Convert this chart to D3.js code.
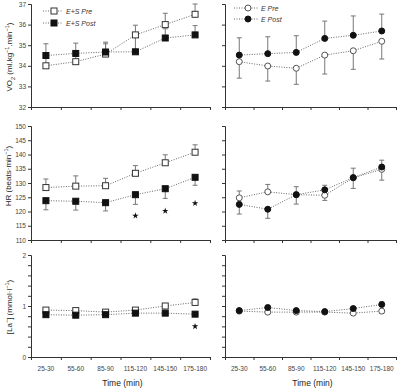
<!DOCTYPE html>
<html><head><meta charset="utf-8">
<script src="https://cdn.jsdelivr.net/npm/d3@7"></script>
<style>
html,body{margin:0;padding:0;background:#fff;}
svg{display:block;font-family:"Liberation Sans",Arial,sans-serif;}
</style></head>
<body>
<svg id="c" width="400" height="389"></svg>
<script>
// ---- data ----
const categories = ["25-30","55-60","85-90","115-120","145-150","175-180"];

// VO2 (ml.kg-1.min-1)
const vo2EsPre      = [34.0, 34.2, 34.57, 35.5, 36.0, 36.5];
const vo2EsPreErr   = [0.5, 0.4, 0.5, 0.47, 0.55, 0.5];      // + up, - down
const vo2EsPost     = [34.5, 34.6, 34.67, 34.68, 35.35, 35.5];
const vo2EsPostErr  = [0.57, 0.5, 0.48, 0.85, 0.45, 0.45];
const vo2EPre       = [34.2, 33.99, 33.88, 34.52, 34.73, 35.19];
const vo2EPreErr    = [-0.8, -0.73, -0.78, -0.92, -0.9, -0.86];
const vo2EPost      = [34.52, 34.59, 34.65, 35.33, 35.48, 35.69];
const vo2EPostErr   = [0.84, 0.82, 0.81, 0.84, 0.94, 0.82];

// HR (beats.min-1)
const hrEsPre       = [128.4, 128.9, 129.05, 133.4, 137.1, 140.8];
const hrEsPreErr    = [3.0, 3.6, 2.6, 2.7, 2.8, 2.6];
const hrEsPost      = [123.8, 123.6, 123.1, 125.9, 128.0, 132.0];
const hrEsPostErr   = [-3.2, -3.1, -2.9, -3.4, -3.4, -2.8];
const hrEPre        = [124.8, 126.9, 125.9, 125.7, 131.8, 134.8];
const hrEPreErr     = [2.4, 2.6, 2.8, -1.8, -3.7, -3.8];
const hrEPost       = [122.5, 120.8, 125.9, 127.6, 131.9, 135.6];
const hrEPostErr    = [-3.4, -3.2, -3.3, 1.6, 3.3, 2.4];
const hrEsStars     = [null, null, null, 118.5, 120.2, 122.9];

// [La-] (mmol.l-1)
const laEsPre       = [0.92, 0.91, 0.88, 0.92, 1.0, 1.07];
const laEsPreErr    = [0.02, 0.02, 0.02, 0.02, 0.03, 0.07];
const laEsPost      = [0.83, 0.82, 0.83, 0.86, 0.86, 0.84];
const laEsPostErr   = [-0.02, -0.02, -0.02, -0.02, -0.02, -0.02];
const laEPre        = [0.9, 0.88, 0.88, 0.88, 0.86, 0.9];
const laEPreErr     = [-0.03, -0.03, -0.03, -0.03, -0.03, -0.04];
const laEPost       = [0.91, 0.97, 0.91, 0.89, 0.95, 1.03];
const laEPostErr    = [0.03, 0.03, 0.03, 0.02, 0.04, 0.05];
const laEsStars     = [null, null, null, null, null, 0.6];

const vo2Ticks = [32, 33, 34, 35, 36, 37];
const hrTicks  = [110, 115, 120, 125, 130, 135, 140, 145, 150];
const laTicks  = [0, 0.2, 0.4, 0.6, 0.8, 1, 1.2, 1.4, 1.6, 1.8, 2];
const laTickLabels = [0, 1, 2];

const legendLeft  = ["E+S Pre", "E+S Post"];
const legendRight = ["E Pre", "E Post"];
const xTitle = "Time (min)";

// ---- layout ----
const svg = d3.select("#c");
const cols = [{x0: 31, x1: 210}, {x0: 225, x1: 396}];
const rows = [
  {key:"vo2", y0: 107, y1: 4,   domain:[32,37],  ticks: vo2Ticks, labels: vo2Ticks, fmt: d3.format("d")},
  {key:"hr",  y0: 240, y1: 126, domain:[110,150],ticks: hrTicks,  labels: hrTicks,  fmt: d3.format("d")},
  {key:"la",  y0: 357, y1: 255, domain:[0,2],    ticks: laTicks,  labels: laTickLabels, fmt: d3.format("d")}
];

const panels = [
  {r:0,c:0, shape:"square", pre:[vo2EsPre,vo2EsPreErr], post:[vo2EsPost,vo2EsPostErr], stars:null, legend: legendLeft},
  {r:0,c:1, shape:"circle", pre:[vo2EPre,vo2EPreErr],   post:[vo2EPost,vo2EPostErr],   stars:null, legend: legendRight},
  {r:1,c:0, shape:"square", pre:[hrEsPre,hrEsPreErr],   post:[hrEsPost,hrEsPostErr],   stars:hrEsStars},
  {r:1,c:1, shape:"circle", pre:[hrEPre,hrEPreErr],     post:[hrEPost,hrEPostErr],     stars:null},
  {r:2,c:0, shape:"square", pre:[laEsPre,laEsPreErr],   post:[laEsPost,laEsPostErr],   stars:laEsStars},
  {r:2,c:1, shape:"circle", pre:[laEPre,laEPreErr],     post:[laEPost,laEPostErr],     stars:null}
];

const axisColor = "#333";
const lineColor = "#666";
const errColor = "#777";

function drawMarker(g, shape, filled, cx, cy) {
  if (shape === "square") {
    g.append("rect").attr("x", cx-3).attr("y", cy-3).attr("width", 6).attr("height", 6)
      .attr("fill", filled ? "#111" : "#fff").attr("stroke", filled ? "#111" : "#333").attr("stroke-width", 1);
  } else {
    g.append("circle").attr("cx", cx).attr("cy", cy).attr("r", 3)
      .attr("fill", filled ? "#111" : "#fff").attr("stroke", filled ? "#111" : "#555").attr("stroke-width", 1);
  }
}

panels.forEach(p => {
  const row = rows[p.r], col = cols[p.c];
  const x = d3.scaleBand().domain(categories).range([col.x0, col.x1]).padding(0);
  const xi = d3.scaleLinear().domain([0, categories.length]).range([col.x0, col.x1]);
  const y = d3.scaleLinear().domain(row.domain).range([row.y0, row.y1]);
  const cx = c => x(c) + x.bandwidth()/2;
  const g = svg.append("g");

  // y axis
  const yAxis = d3.axisLeft(y).tickValues(row.ticks).tickSize(3).tickPadding(2)
    .tickFormat(d => (p.c === 0 && row.labels.some(l => Math.abs(l-d) < 1e-9)) ? row.fmt(d) : "");
  const ya = g.append("g").attr("transform", `translate(${col.x0},0)`).call(yAxis);
  ya.select(".domain").attr("stroke", axisColor);
  ya.selectAll(".tick line").attr("stroke", axisColor);
  ya.selectAll("text").attr("font-size", 6.5).attr("fill", "#444").attr("font-family", "Liberation Sans, Arial, sans-serif");

  // x axis (ticks at band boundaries)
  const xAxis = d3.axisBottom(xi).tickValues(d3.range(0, categories.length+1)).tickSize(3).tickFormat("");
  const xa = g.append("g").attr("transform", `translate(0,${row.y0})`).call(xAxis);
  xa.select(".domain").attr("stroke", axisColor);
  xa.selectAll(".tick line").attr("stroke", axisColor);

  if (p.r === 2) {
    g.selectAll(".xlab").data(categories).enter().append("text")
      .attr("x", d => cx(d)).attr("y", row.y0 + 14)
      .attr("text-anchor", "middle").attr("font-size", 6.5).attr("fill", "#444")
      .text(d => d);
    g.append("text").attr("x", (col.x0+col.x1)/2 + 2).attr("y", 386)
      .attr("text-anchor", "middle").attr("font-size", 8.5).attr("fill", "#222").text(xTitle);
  }

  const series = [
    {vals: p.pre[0],  err: p.pre[1],  filled:false},
    {vals: p.post[0], err: p.post[1], filled:true}
  ];
  series.forEach(s => {
    g.append("path").datum(s.vals)
      .attr("d", d3.line().x((d,i) => cx(categories[i])).y(d => y(d)))
      .attr("fill", "none").attr("stroke", lineColor).attr("stroke-width", 1)
      .attr("stroke-dasharray", "1,1.5");
  });
  series.forEach(s => {
    s.vals.forEach((v,i) => {
      const e = s.err[i];
      const xx = cx(categories[i]);
      const yTip = y(v + e);
      g.append("line").attr("x1", xx).attr("x2", xx).attr("y1", y(v)).attr("y2", yTip)
        .attr("stroke", errColor).attr("stroke-width", 1);
      g.append("line").attr("x1", xx-2.5).attr("x2", xx+2.5).attr("y1", yTip).attr("y2", yTip)
        .attr("stroke", errColor).attr("stroke-width", 1);
    });
  });
  series.forEach(s => {
    s.vals.forEach((v,i) => drawMarker(g, p.shape, s.filled, cx(categories[i]), y(v)));
  });
  if (p.stars) {
    p.stars.forEach((v,i) => {
      if (v == null) return;
      g.append("path").attr("d", d3.symbol(d3.symbolStar, 13)())
        .attr("transform", `translate(${cx(categories[i])},${y(v)})`).attr("fill", "#111");
    });
  }
  if (p.legend) {
    const lx0 = p.c === 0 ? 43 : 234, lx1 = p.c === 0 ? 63 : 258, mx = p.c === 0 ? 54 : 248;
    const tx = p.c === 0 ? 66 : 261;
    const ys = p.c === 0 ? [11, 23] : [8, 19];
    p.legend.forEach((name, k) => {
      g.append("line").attr("x1", lx0).attr("x2", lx1).attr("y1", ys[k]).attr("y2", ys[k])
        .attr("stroke", lineColor).attr("stroke-dasharray", "1,1.5");
      drawMarker(g, p.shape, k === 1, mx, ys[k]);
      g.append("text").attr("x", tx).attr("y", ys[k] + 2.5).attr("font-size", 7)
        .attr("font-style", "italic").attr("fill", "#333").text(name);
    });
  }
});

// y axis titles
function yTitle(cx, cy, parts) {
  const t = svg.append("text").attr("transform", `translate(${cx},${cy}) rotate(-90)`)
    .attr("text-anchor", "middle").attr("font-size", 8).attr("fill", "#222");
  parts.forEach(pt => {
    const ts = t.append("tspan").text(pt.t);
    if (pt.sub) ts.attr("baseline-shift", "sub").attr("font-size", 5.5);
    if (pt.sup) ts.attr("baseline-shift", "super").attr("font-size", 5.5);
  });
}
yTitle(12, 57, [{t:"VO"},{t:"2",sub:true},{t:" (ml.kg"},{t:"−1",sup:true},{t:".min"},{t:"−1",sup:true},{t:")"}]);
yTitle(11, 176, [{t:"HR (beats·min"},{t:"−1",sup:true},{t:")"}]);
yTitle(12, 307, [{t:"[La"},{t:"−",sup:true},{t:"] (mmol·l"},{t:"−1",sup:true},{t:")"}]);
</script>
</body></html>
